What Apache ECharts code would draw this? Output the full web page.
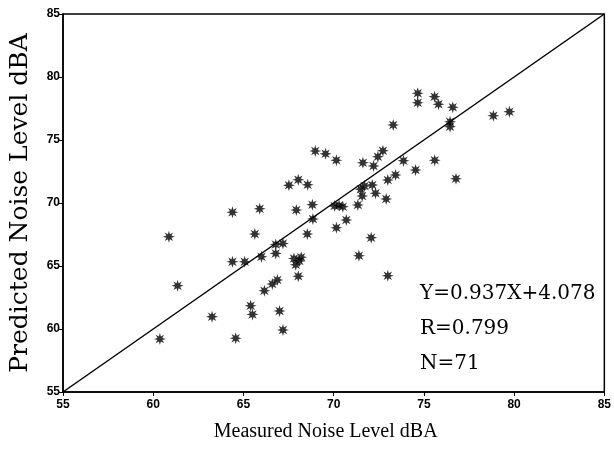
<!DOCTYPE html>
<html><head><meta charset="utf-8">
<script src="https://cdn.jsdelivr.net/npm/echarts@6/dist/echarts.min.js"></script>
<style>html,body{margin:0;padding:0;background:#fff}#c{width:614px;height:450px}</style>
</head><body><div id="c"></div>
<script>
// Measured (x) and predicted (y) noise levels, dBA
const measured = [
  68.98, 69.55, 67.52, 68.04, 68.56, 64.39, 65.90, 67.93, 68.82,
  74.66, 74.66, 75.59, 75.81, 76.60, 78.85, 79.74, 73.30, 76.45, 76.45,
  72.73, 72.45, 71.62, 72.21, 70.15, 73.87, 74.54, 75.60, 76.78, 73.43,
  73.00, 71.71, 72.14, 71.58, 72.32, 72.91, 71.34, 70.05, 70.51,
  60.87, 65.63, 68.85, 68.54, 64.39, 65.07, 66.00, 66.79, 67.19, 66.79,
  67.80, 68.10, 67.90, 68.04, 66.88, 66.60, 66.16, 61.35, 65.40, 65.50,
  67.00, 63.26, 67.19, 60.37, 64.57,
  70.15, 70.70, 72.08, 71.40, 73.00,
  68.20, 71.50, 70.30
];
const predicted = [
  74.13, 73.90, 71.40, 71.85, 71.45, 69.26, 69.55, 69.44, 69.87,
  78.71, 77.96, 78.44, 77.83, 77.60, 76.93, 77.25, 76.19, 76.45, 76.06,
  74.15, 73.67, 73.20, 72.94, 73.40, 73.36, 72.62, 73.40, 71.93, 72.22,
  71.83, 71.35, 71.43, 70.56, 70.77, 70.32, 69.84, 69.76, 69.71,
  67.33, 67.54, 68.73, 67.54, 65.34, 65.34, 65.74, 66.71, 66.79, 66.00,
  65.60, 65.40, 65.10, 64.18, 63.89, 63.57, 63.04, 63.44, 61.85, 61.16,
  61.43, 60.98, 59.92, 59.21, 59.26,
  68.04, 68.65, 67.25, 65.82, 64.23,
  65.70, 71.10, 69.80
];
// Fitted line drawn on the chart
const lineX = [55, 85];
const lineY = [55, 85];
// Axis ticks
const xTickValues = [55, 60, 65, 70, 75, 80, 85];
const xTickLabels = ['55', '60', '65', '70', '75', '80', '85'];
const yTickValues = [55, 60, 65, 70, 75, 80, 85];
const yTickLabels = ['55', '60', '65', '70', '75', '80', '85'];
// Annotation text
const statLines = ['Y=0.937X+4.078', 'R=0.799', 'N=71'];

// asterisk-like star marker
const starPts = [];
for (let i = 0; i < 16; i++) {
  const a = i * Math.PI / 8 - Math.PI / 2;
  const r = i % 2 ? 0.45 : 1;
  starPts.push((Math.cos(a) * r).toFixed(3) + ',' + (Math.sin(a) * r).toFixed(3));
}
const starPath = 'path://M' + starPts.join('L') + 'Z';

const chart = echarts.init(document.getElementById('c'), null, {renderer: 'canvas'});
const pts = measured.map((x, i) => [x, predicted[i]]);
const tickFont = {color: '#000', fontFamily: 'Liberation Sans', fontSize: 12, fontWeight: 'bold'};

chart.setOption({
  animation: false,
  backgroundColor: '#fff',
  grid: {left: 63, right: 9, top: 14, bottom: 58, show: true, borderColor: '#000', borderWidth: 1.5, backgroundColor: 'transparent'},
  xAxis: {
    type: 'value', min: 55, max: 85, interval: 5,
    axisLine: {lineStyle: {color: '#000', width: 1.5}},
    axisTick: {show: true, length: 4, inside: false, lineStyle: {color: '#000'}},
    splitLine: {show: false},
    axisLabel: Object.assign({margin: 7, formatter: v => xTickLabels[xTickValues.indexOf(v)] ?? ''}, tickFont),
    name: 'Measured Noise Level dBA', nameLocation: 'middle', nameGap: 30,
    nameTextStyle: {color: '#000', fontFamily: 'Liberation Serif', fontSize: 20, padding: [0, 16, 0, 0]}
  },
  yAxis: {
    type: 'value', min: 55, max: 85, interval: 5,
    axisLine: {lineStyle: {color: '#000', width: 1.5}},
    axisTick: {show: true, length: 4, inside: false, lineStyle: {color: '#000'}},
    splitLine: {show: false},
    axisLabel: Object.assign({margin: 3, formatter: v => yTickLabels[yTickValues.indexOf(v)] ?? ''}, tickFont),
    name: 'Predicted Noise Level dBA', nameLocation: 'middle', nameGap: 30, nameRotate: 90,
    nameTextStyle: {color: '#000', fontFamily: 'DejaVu Serif', fontSize: 25}
  },
  series: [
    {
      type: 'line', data: lineX.map((x, i) => [x, lineY[i]]),
      symbol: 'none', lineStyle: {color: '#000', width: 1.5}, silent: true, z: 2
    },
    {
      type: 'scatter', data: pts, symbol: starPath, symbolSize: 12,
      itemStyle: {color: '#000'}, z: 3
    }
  ],
  graphic: statLines.map((t, i) => ({
    type: 'text', left: 420, top: 284 + i * 35,
    style: {text: t, fill: '#000', font: '20px "DejaVu Serif"'}
  }))
});
</script>
</body></html>
